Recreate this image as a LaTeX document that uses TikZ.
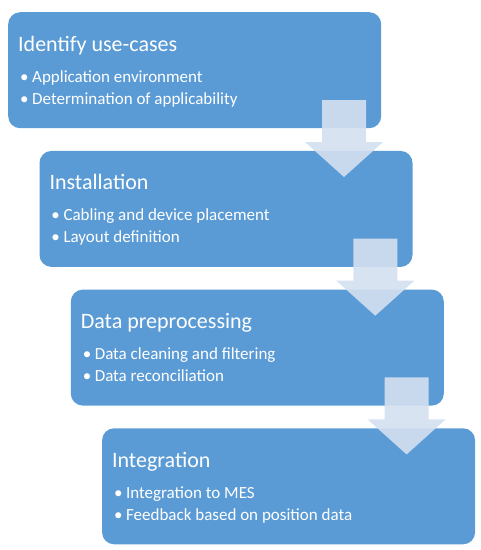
\documentclass[tikz,border=0pt]{standalone}
\usepackage{fontspec}
\setmainfont{Carlito}
\definecolor{boxblue}{RGB}{91,155,213}
\definecolor{arrowfill}{RGB}{212,224,241}
\begin{document}
\begin{tikzpicture}[x=1pt,y=-1pt,
  stage/.style={fill=boxblue, draw=none, rounded corners=12pt, minimum width=373pt, minimum height=116pt, anchor=north west, inner sep=0pt},
  titletext/.style={anchor=base west, text=white, font=\fontsize{22}{26}\selectfont, inner sep=0pt},
  itemtext/.style={anchor=base west, text=white, font=\fontsize{17}{20}\selectfont, inner sep=0pt},
  flow/.style={fill=arrowfill, fill opacity=0.9}]
\useasboundingbox (0,0) rectangle (481,550);
\foreach \i/\t/\a/\b in {
  0/Identify use-cases/Application environment/Determination of applicability,
  1/Installation/Cabling and device placement/Layout definition,
  2/Data preprocessing/Data cleaning and filtering/Data reconciliation,
  3/Integration/Integration to MES/Feedback based on position data}{
  \pgfmathsetmacro{\bx}{8+31.3*\i}
  \pgfmathsetmacro{\by}{12+138.7*\i}
  \node[stage] (box\i) at (\bx,\by) {};
  \node[titletext] (title\i) at (\bx+10,\by+39) {\t};
  \node[itemtext] (bulA\i) at (\bx+12,\by+70) {\textbullet};
  \node[itemtext] (itemA\i) at (\bx+24,\by+70) {\a};
  \node[itemtext] (bulB\i) at (\bx+12,\by+92) {\textbullet};
  \node[itemtext] (itemB\i) at (\bx+24,\by+92) {\b};
}
\foreach \i in {0,1,2}{
  \pgfmathsetmacro{\cx}{8+31.3*\i+336}
  \pgfmathsetmacro{\ty}{12+138.7*\i}
  \fill[flow] (\cx-22,\ty+88) -- (\cx+22,\ty+88) -- (\cx+22,\ty+130) -- (\cx+39,\ty+130)
     -- (\cx,\ty+165) -- (\cx-39,\ty+130) -- (\cx-22,\ty+130) -- cycle;
}
\end{tikzpicture}
\end{document}
